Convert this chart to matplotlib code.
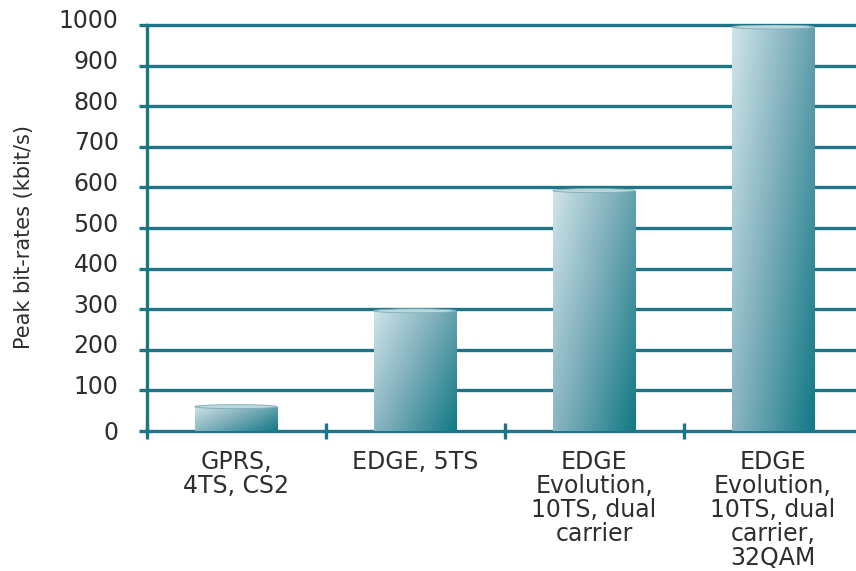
#!/usr/bin/env python3

import numpy as np
import matplotlib
matplotlib.use('Agg')
import matplotlib.pyplot as plt
from matplotlib.colors import LinearSegmentedColormap
from matplotlib.patches import Ellipse
from matplotlib.transforms import ScaledTranslation

# Peak bit-rates per technology (kbit/s)
categories = ['GPRS,\n4TS, CS2',
              'EDGE, 5TS',
              'EDGE\nEvolution,\n10TS, dual\ncarrier',
              'EDGE\nEvolution,\n10TS, dual\ncarrier,\n32QAM']
rates = [60, 296, 592, 995]
yticks = list(range(0, 1001, 100))

TEAL = '#1d7586'
TEXT = '#2e2e2e'


def main():
    plt.rcParams['font.family'] = ['DejaVu Sans']

    fig = plt.figure(figsize=(8.56, 5.71), dpi=100)
    ax = fig.add_axes([146.5 / 856, 1 - 431 / 571, 1 - 146.5 / 856, 406 / 571])

    x = np.arange(len(categories))
    bars = ax.bar(x, rates, width=0.46, facecolor='none', edgecolor='none', zorder=2)

    # diagonal shading: light top-left, dark teal bottom-right
    cmap = LinearSegmentedColormap.from_list(
        'bar', ['#d0e4e9', '#78abb8', '#117985'])
    u = np.linspace(0, 1, 200)
    v = np.linspace(1, 0, 200)
    shade = 0.6 * u[None, :] + 0.4 * (1 - v[:, None])
    for rect in bars:
        x0, w, h = rect.get_x(), rect.get_width(), rect.get_height()
        im = ax.imshow(shade, extent=(x0, x0 + w, 0, h), origin='upper',
                       aspect='auto', cmap=cmap, zorder=2, interpolation='bilinear')
        im.set_clip_path(rect)
        cap = Ellipse((x0 + w / 2, h), w, 10, facecolor='#bcd6dc',
                      edgecolor='#7fadb8', lw=0.6, zorder=3)
        ax.add_patch(cap)

    ax.set_xlim(-0.5, (856 - 146.5) / 179 - 0.5)
    ax.set_ylim(0, 1000)

    ax.set_yticks(yticks)
    ax.set_yticklabels([str(t) for t in yticks])
    ax.yaxis.grid(True, color=TEAL, lw=2.4)
    ax.set_axisbelow(True)
    for line in ax.get_ygridlines():
        line.set_clip_on(False)

    ax.tick_params(axis='y', direction='out', length=6, width=2.4, color=TEAL,
                   pad=14, labelsize=17, labelcolor=TEXT)
    for t, lbl in zip(yticks, ax.get_yticklabels()):
        dy = 1 if t == 0 else 6
        lbl.set_transform(lbl.get_transform() + ScaledTranslation(0, dy / 100, fig.dpi_scale_trans))

    ax.set_xticks(x)
    ax.set_xticklabels(categories, linespacing=1.0)
    ax.set_xticks(np.arange(len(categories)) - 0.5, minor=True)
    ax.tick_params(axis='x', which='major', length=0, pad=14, labelsize=17,
                   labelcolor=TEXT)
    ax.tick_params(axis='x', which='minor', direction='inout', length=11,
                   width=2.4, color=TEAL)

    for side in ['top', 'right', 'bottom']:
        ax.spines[side].set_visible(False)
    ax.spines['left'].set_color(TEAL)
    ax.spines['left'].set_linewidth(2.4)

    fig.text(24 / 856, 1 - 237 / 571, 'Peak bit-rates (kbit/s)', rotation=90,
             ha='center', va='center', fontsize=15, color=TEXT)

    fig.savefig('out.png', dpi=100)


if __name__ == '__main__':
    main()
